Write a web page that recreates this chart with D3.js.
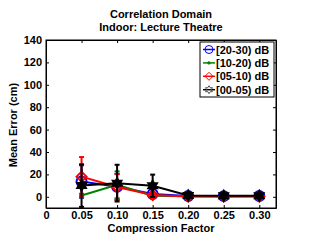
<!DOCTYPE html>
<html>
<head>
<meta charset="utf-8">
<script src="https://cdn.jsdelivr.net/npm/d3@7"></script>
<style>
  body { margin: 0; background: #fff; }
  text { font-family: "Liberation Sans", Arial, sans-serif; font-weight: bold; }
</style>
</head>
<body>
<div class="chart"></div>
<script>
// compression factors on the x axis
var factors = [0.05, 0.10, 0.15, 0.20, 0.25, 0.30];
var xTicks = [0, 0.05, 0.10, 0.15, 0.20, 0.25, 0.30];
var yTicks = [0, 20, 40, 60, 80, 100, 120, 140];

// mean error (cm) and error bar half-length per SNR band
var snr2030 = [13.7, 9.0, 2.5, 0.8, 0.6, 0.8];
var snr2030Err = [14.5, 11.5, 2.0, 1.0, 1.0, 1.0];
var snr1020 = [1.2, 10.7, 1.0, 0.5, 0.4, 0.5];
var snr1020Err = [1.5, 12.0, 1.0, 0.5, 0.5, 0.5];
var snr0510 = [18.0, 8.7, 1.5, 0.3, 0.3, 0.3];
var snr0510Err = [17.5, 11.5, 3.0, 1.0, 1.0, 1.0];
var snr0005 = [10.0, 12.2, 9.8, 1.2, 1.0, 1.0];
var snr0005Err = [19.0, 16.4, 10.0, 1.5, 1.0, 1.0];

var labels = ["[20-30) dB", "[10-20) dB", "[05-10) dB", "[00-05) dB"];
var colors = ["#0000ff", "#008000", "#ff0000", "#000000"];

var series = [
  { name: labels[0], color: colors[0], marker: "circle", values: snr2030, err: snr2030Err },
  { name: labels[1], color: colors[1], marker: "dot", values: snr1020, err: snr1020Err },
  { name: labels[2], color: colors[2], marker: "diamond", values: snr0510, err: snr0510Err },
  { name: labels[3], color: colors[3], marker: "star", values: snr0005, err: snr0005Err }
];

var svgWidth = 312, svgHeight = 241;
var margin = { top: 40, right: 36, bottom: 33, left: 46 };
var width = svgWidth - margin.left - margin.right;
var height = svgHeight - margin.top - margin.bottom;

var svg = d3.select(".chart").append("svg")
  .attr("width", svgWidth)
  .attr("height", svgHeight);

var g = svg.append("g")
  .attr("transform", `translate(${margin.left}, ${margin.top})`);

var x = d3.scaleLinear().domain([0, 0.3235]).range([0, width]);
var y = d3.scaleLinear().domain([-10, 140]).range([height, 0]);

// clip so error bars stop at the frame
g.append("clipPath").attr("id", "clip")
  .append("rect").attr("width", width).attr("height", height);

// axes, ticks pointing inward like matlab
var fmtX = function(d) { return d === 0 ? "0" : d3.format(".2f")(d); };
g.append("g").attr("transform", `translate(0,${height})`)
  .call(d3.axisBottom(x).tickValues(xTicks).tickFormat(fmtX).tickSizeInner(-3).tickSizeOuter(0).tickPadding(3));
g.append("g").call(d3.axisTop(x).tickValues(xTicks).tickFormat("").tickSizeInner(-3).tickSizeOuter(0));
g.append("g")
  .call(d3.axisLeft(y).tickValues(yTicks).tickSizeInner(-3).tickSizeOuter(0).tickPadding(4));
g.append("g").attr("transform", `translate(${width},0)`)
  .call(d3.axisRight(y).tickValues(yTicks).tickFormat("").tickSizeInner(-3).tickSizeOuter(0));

g.selectAll(".domain").attr("stroke", "#000");
g.selectAll(".tick line").attr("stroke", "#000");
g.selectAll(".tick text").attr("font-size", 11).attr("fill", "#000")
  .attr("font-family", "Liberation Sans, Arial, sans-serif").attr("font-weight", "bold");

g.append("rect").attr("width", width).attr("height", height)
  .attr("fill", "none").attr("stroke", "#000").attr("stroke-width", 1);

function hexagram(r) {
  var pts = [];
  for (var k = 0; k < 12; k++) {
    var a = Math.PI / 2 + k * Math.PI / 6;
    var rr = k % 2 === 0 ? r : r * 0.577;
    pts.push([rr * Math.cos(a), -rr * Math.sin(a)]);
  }
  return "M" + pts.join("L") + "Z";
}

function marker(sel, type, color, size, sw, fill) {
  var s = size / 2;
  if (type === "dot") {
    sel.append("circle").attr("r", size / 5).attr("fill", color);
  } else if (type === "circle") {
    sel.append("circle").attr("r", s).attr("fill", "none")
      .attr("stroke", color).attr("stroke-width", sw);
  } else if (type === "diamond") {
    sel.append("path").attr("d", `M0,${-s}L${s},0L0,${s}L${-s},0Z`)
      .attr("fill", "none").attr("stroke", color).attr("stroke-width", sw);
  } else {
    sel.append("path").attr("d", hexagram(s))
      .attr("fill", fill ? color : "none").attr("stroke", color).attr("stroke-width", sw);
  }
}

var plot = g.append("g").attr("clip-path", "url(#clip)");
var line = d3.line().x(function(d, i) { return x(factors[i]); }).y(function(d) { return y(d); });

series.forEach(function(s) {
  var sg = plot.append("g");
  s.values.forEach(function(v, i) {
    var cx = x(factors[i]);
    sg.append("line").attr("x1", cx).attr("x2", cx)
      .attr("y1", y(v - s.err[i])).attr("y2", y(v + s.err[i]))
      .attr("stroke", s.color).attr("stroke-width", 2);
    [v - s.err[i], v + s.err[i]].forEach(function(e) {
      sg.append("line").attr("x1", cx - 2.5).attr("x2", cx + 2.5)
        .attr("y1", y(e)).attr("y2", y(e))
        .attr("stroke", s.color).attr("stroke-width", 2);
    });
  });
  sg.append("path").datum(s.values).attr("d", line)
    .attr("fill", "none").attr("stroke", s.color).attr("stroke-width", 2);
  s.values.forEach(function(v, i) {
    var m = sg.append("g").attr("transform", `translate(${x(factors[i])},${y(v)})`);
    marker(m, s.marker, s.color, 10, 2, true);
  });
});

// legend
var lg = svg.append("g").attr("transform", "translate(200,42)");
lg.append("rect").attr("width", 74).attr("height", 55)
  .attr("fill", "#fff").attr("stroke", "#000").attr("stroke-width", 1);
series.forEach(function(s, i) {
  var row = lg.append("g").attr("transform", `translate(0,${7.5 + i * 13.4})`);
  row.append("line").attr("x1", 3).attr("x2", 15).attr("stroke", s.color).attr("stroke-width", 1.5);
  var m = row.append("g").attr("transform", "translate(9,0)");
  marker(m, s.marker, s.color === "#000000" ? "#555" : s.color, 8, 1, false);
  row.append("text").attr("x", 16).attr("y", 4).attr("font-size", 11).text(s.name);
});

// titles
svg.append("text").attr("x", 161).attr("y", 18).attr("text-anchor", "middle")
  .attr("font-size", 11).text("Correlation Domain");
svg.append("text").attr("x", 161).attr("y", 31).attr("text-anchor", "middle")
  .attr("font-size", 11).text("Indoor: Lecture Theatre");
svg.append("text").attr("x", 161).attr("y", 232).attr("text-anchor", "middle")
  .attr("font-size", 11).text("Compression Factor");
svg.append("text").attr("transform", "translate(17,125) rotate(-90)")
  .attr("text-anchor", "middle").attr("font-size", 11).text("Mean Error (cm)");
</script>
</body>
</html>
